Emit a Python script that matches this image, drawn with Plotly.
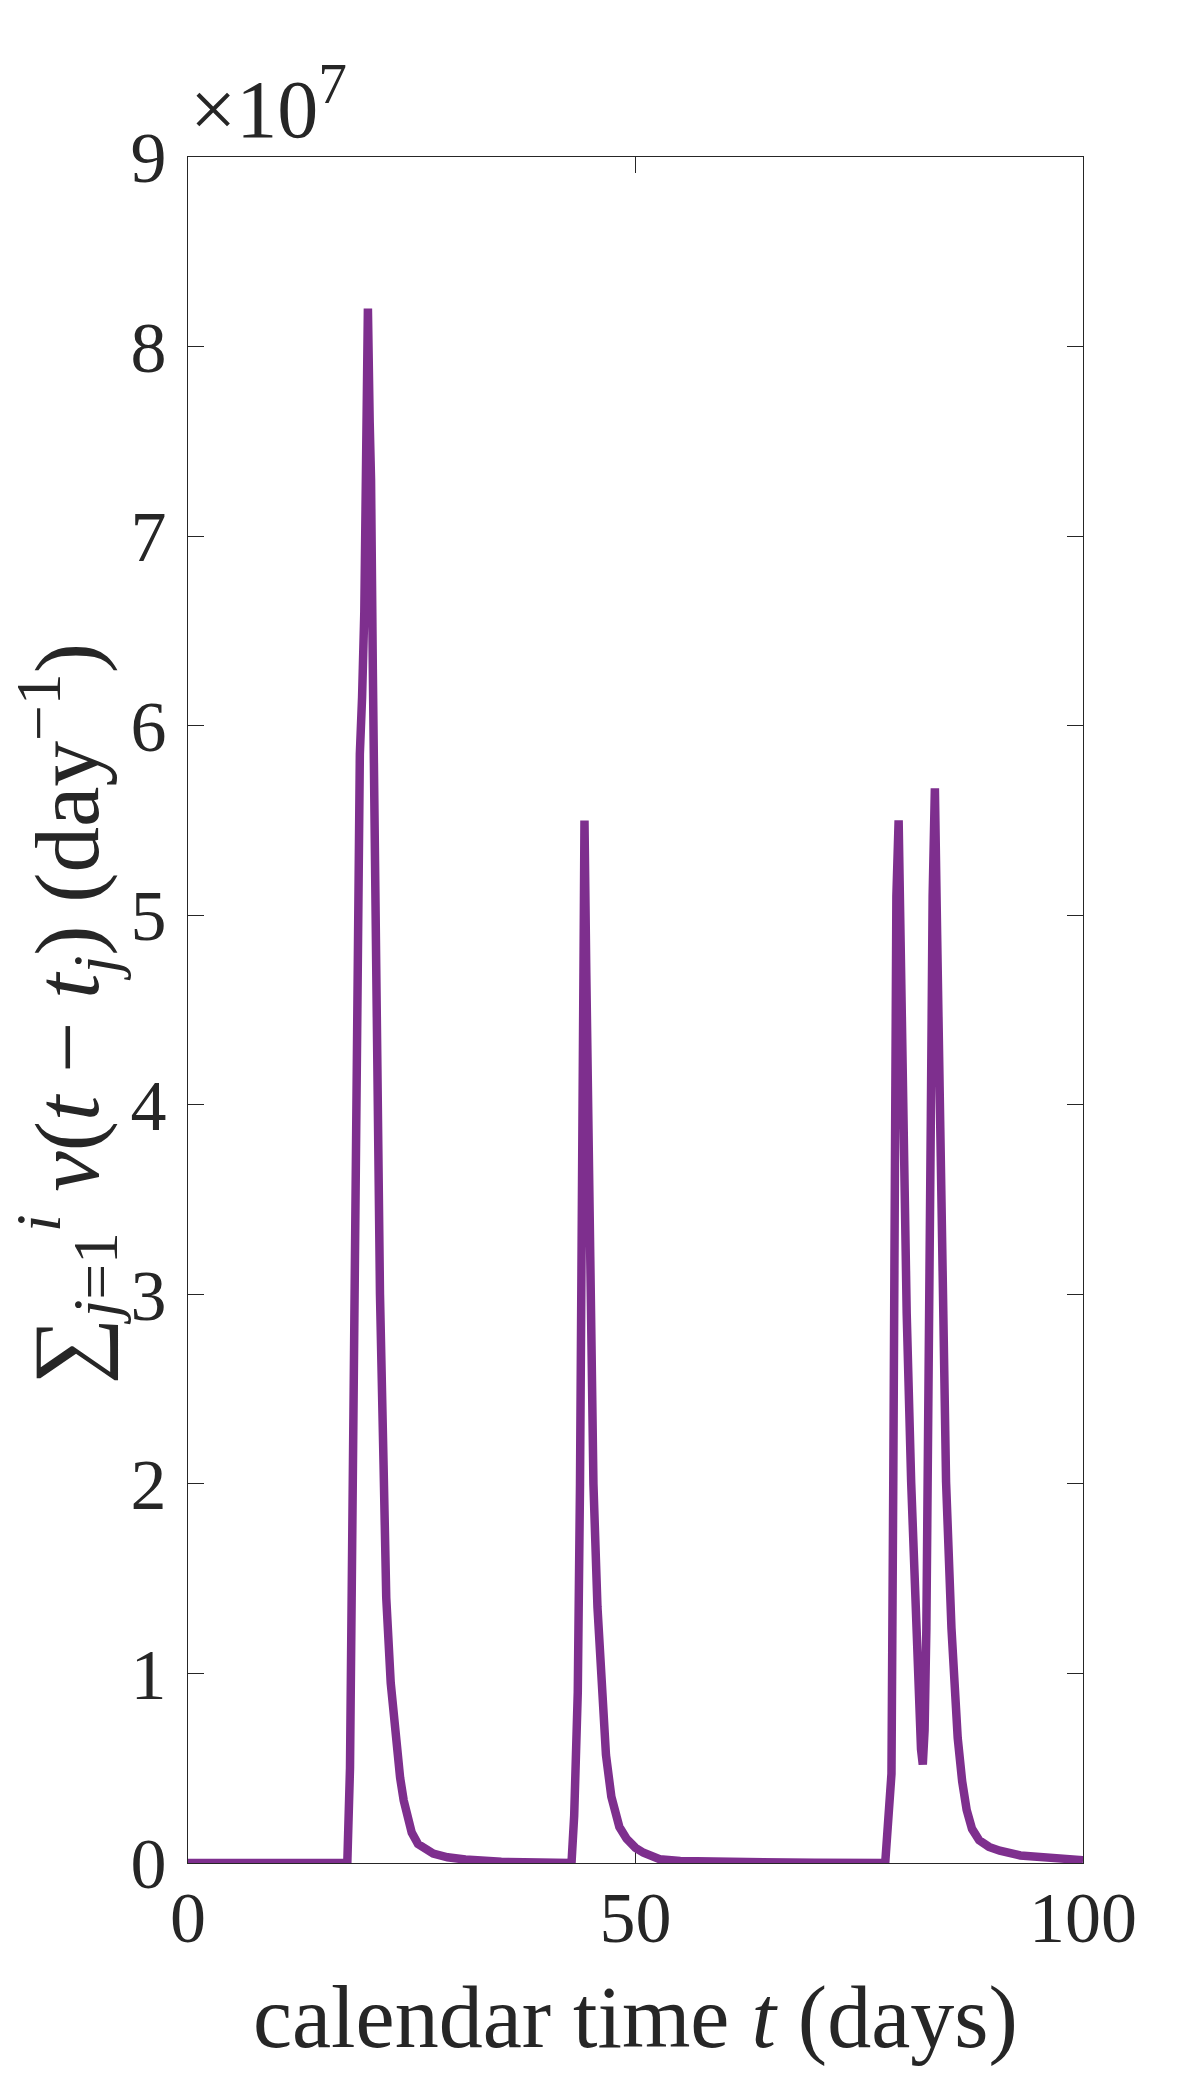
import plotly.graph_objects as go

# calendar time t (days) and summed rate, in units of 1e7 per day
days = [0, 17.8, 18.1, 18.4, 18.7, 19.0, 19.2, 19.45, 19.7, 19.9, 20.1, 20.3, 20.45,
        20.65, 20.95, 21.1, 21.45, 21.85, 22.15, 22.65, 23.1, 23.7, 24.1, 24.5, 25.0,
        25.7, 26.5, 27.4, 29.0, 31.0, 35.0, 40.0, 42.85, 43.15, 43.55, 43.8, 44.05,
        44.3, 44.5, 44.73, 45.0, 45.3, 45.75, 46.2, 46.7, 47.3, 47.7, 48.2, 49.0, 50.0,
        50.9, 52.7, 55.0, 60.0, 70.0, 77.9, 78.0, 78.3, 78.6, 78.8, 79.0, 79.15, 79.4,
        79.6, 79.9, 80.3, 80.8, 81.3, 81.6, 81.9, 82.1, 82.3, 82.5, 82.7, 83.0, 83.2,
        83.45, 83.7, 84.0, 84.7, 85.3, 85.6, 86.0, 86.5, 87.0, 87.6, 88.4, 89.5, 90.7,
        93.0, 96.0, 100]
rate_1e7 = [0, 0, 0.5, 2.2, 4.15, 5.5, 5.85, 6.15, 6.6, 7.4, 8.2, 7.6, 7.3,
            6.3, 4.8, 4.15, 3.0, 2.1, 1.4, 0.95, 0.68, 0.45, 0.33, 0.24, 0.16,
            0.1, 0.07, 0.05, 0.03, 0.018, 0.006, 0.002, 0, 0.25, 0.9, 2.0, 3.85,
            5.5, 4.7, 3.86, 2.9, 2.0, 1.35, 0.9, 0.57, 0.35, 0.26, 0.19, 0.128, 0.08,
            0.054, 0.02, 0.01, 0.004, 0.001, 0, 0.05, 0.2, 0.47, 2.0, 3.94, 5.1, 5.5,
            4.9, 3.94, 2.9, 2.01, 1.24, 0.86, 0.6, 0.52, 0.7, 1.24, 2.01, 3.94, 5.1,
            5.67, 4.9, 3.94, 2.01, 1.24, 0.92, 0.66, 0.43, 0.28, 0.18, 0.12, 0.085, 0.065,
            0.04, 0.025, 0.015]

x_ticks = [0, 50, 100]
y_ticks = [0, 1, 2, 3, 4, 5, 6, 7, 8, 9]

FONT = "Liberation Serif"
INK = "#262626"

fig = go.Figure()
fig.add_trace(go.Scatter(
    x=days, y=rate_1e7,
    mode="lines",
    line=dict(color="#7E2F8E", width=8.5),
    hoverinfo="skip",
))

axis_style = dict(
    showgrid=False, zeroline=False,
    showline=True, linecolor=INK, linewidth=1.3,
    mirror="ticks", ticks="inside", ticklen=16, tickwidth=1.3, tickcolor=INK,
    tickfont=dict(family=FONT, size=72, color=INK),
    layer="below traces",
)

# the page body keeps an 8px margin, so the figure is drawn 8px smaller on each side
fig.update_layout(
    width=1184, height=2069, autosize=False,
    paper_bgcolor="white", plot_bgcolor="white",
    margin=dict(l=179.5, r=108.5, t=148.7, b=213.7),
    showlegend=False,
    xaxis=dict(range=[0, 100], tickvals=x_ticks, ticklabelstandoff=-9, **axis_style),
    yaxis=dict(range=[0, 9], tickvals=y_ticks, ticklabelstandoff=6, **axis_style),
)

# axis titles and exponent label
fig.add_annotation(
    text="calendar time <i>t</i> (days)",
    xref="paper", yref="paper", x=0.5, y=-0.0905,
    xanchor="center", yanchor="middle", showarrow=False,
    font=dict(family=FONT, size=88, color=INK),
)
fig.add_annotation(
    text="<span style='font-size:94px'>∑</span><sub><i>j</i>=1</sub><sup><i>i</i></sup> "
         "<i>v</i>(<i>t</i> − <i>t</i><sub><i>j</i></sub>) (day<sup>−1</sup>)",
    xref="paper", yref="paper", x=-0.135, y=0.498,
    xanchor="center", yanchor="middle", textangle=-90, showarrow=False,
    font=dict(family=FONT, size=91, color=INK),
)
fig.add_annotation(
    text="×10<sup>7</sup>",
    xref="paper", yref="paper", x=0.0, y=1.0,
    xanchor="left", yanchor="bottom", showarrow=False,
    font=dict(family=FONT, size=82, color=INK),
)

fig.write_html("out.html")
